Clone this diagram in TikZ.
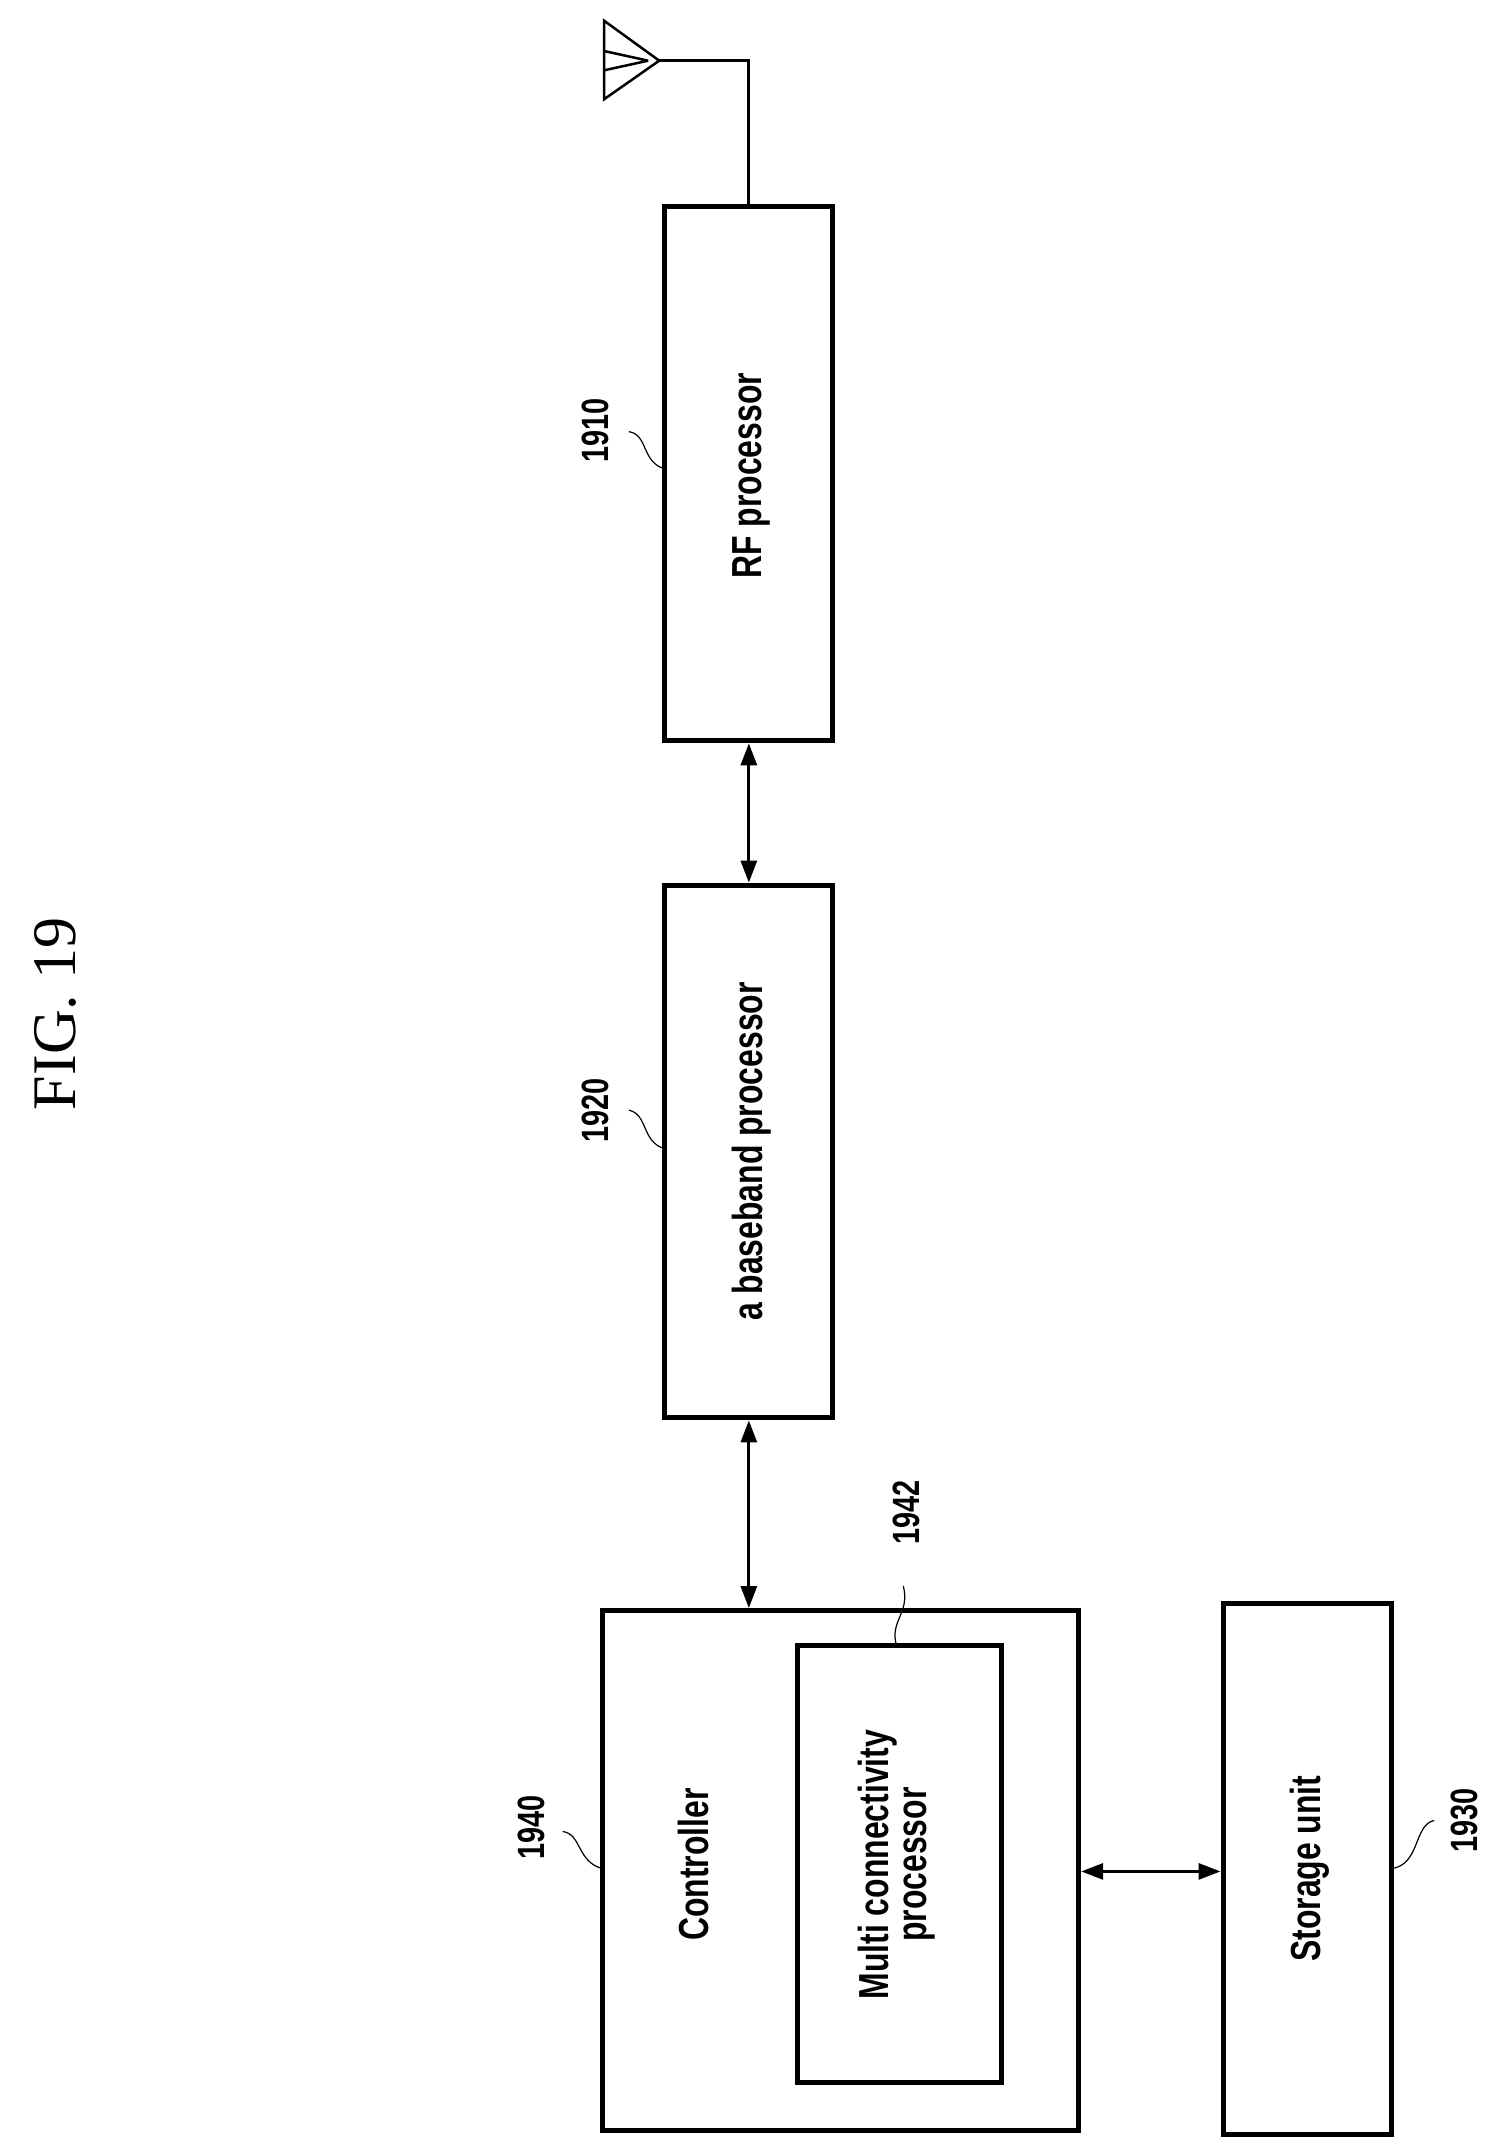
\documentclass[tikz,border=0pt]{standalone}
\usepackage{fontspec}
\setmainfont{Liberation Sans}
\newfontfamily\figfont{Liberation Serif}
\usetikzlibrary{arrows.meta}
\begin{document}
\begin{tikzpicture}[x=1.3794pt,y=-1.3794pt,
  box/.style={draw,line width=5pt},
  txt/.style={rotate=90,font=\fontsize{42}{46}\selectfont\bfseries,align=center},
  lbl/.style={rotate=90,font=\fontsize{38}{40}\selectfont\bfseries},
  arr/.style={line width=3pt,{Triangle[length=22pt,width=16pt]}-{Triangle[length=22pt,width=16pt]}},
  lead/.style={line width=1.2pt}]
\useasboundingbox (0,0) rectangle (1086,1559);
\node[rotate=90,font=\figfont\fontsize{62}{64}\selectfont] (fig) at (40,735) {FIG. 19};
% boxes
\draw[box] (482,150) rectangle (604,537); \coordinate (rf) at (543,150);
\node[txt] (rft) at (545,345) {\scalebox{0.76}[1]{RF processor}};
\draw[box] (482,642) rectangle (604,1028);
\node[txt] (bbt) at (545,835) {\scalebox{0.76}[1]{a baseband processor}};
\draw[box] (437,1168) rectangle (782,1545);
\node[txt] (ct) at (503,1352) {\scalebox{0.76}[1]{Controller}};
\draw[box] (578,1193) rectangle (726,1510);
\node[txt] (mt) at (650,1352) {\scalebox{0.76}[1]{Multi connectivity}\\[-8pt]\scalebox{0.76}[1]{processor}};
\draw[box] (887,1163) rectangle (1009,1548);
\node[txt] (st) at (950,1355) {\scalebox{0.76}[1]{Storage unit}};
% antenna
\coordinate (a1) at (438,15); \coordinate (a2) at (438,72); \coordinate (ap) at (478,44);
\coordinate (am1) at (438,37); \coordinate (am2) at (438,51);
\draw[line width=2.5pt,line join=miter] (a1) -- (ap) -- (a2) -- cycle;
\draw[line width=2.5pt] (am1) -- (470,44) (am2) -- (470,44);
\coordinate (ac) at (543,44);
\draw[line width=3pt] (ap) -- (ac) -- (rf);
% arrows
\coordinate (r1) at (543,539); \coordinate (b1) at (543,640);
\coordinate (b2) at (543,1030); \coordinate (c1) at (543,1166);
\coordinate (c2) at (784,1357); \coordinate (s1) at (885,1357);
\draw[arr] (r1) -- (b1);
\draw[arr] (b2) -- (c1);
\draw[arr] (c2) -- (s1);
% labels
\node[lbl] (l1910) at (432,312) {\scalebox{0.76}[1]{1910}};
\draw[lead] (456,313) .. controls (470,315) and (465,335) .. (482,340);
\node[lbl] (l1920) at (432,805) {\scalebox{0.76}[1]{1920}};
\draw[lead] (456,805) .. controls (470,808) and (465,828) .. (482,833);
\node[lbl] (l1940) at (385,1325) {\scalebox{0.76}[1]{1940}};
\draw[lead] (408,1328) .. controls (422,1330) and (418,1350) .. (437,1355);
\node[lbl] (l1942) at (657,1097) {\scalebox{0.76}[1]{1942}};
\draw[lead] (655,1150) .. controls (660,1170) and (645,1175) .. (650,1193);
\node[lbl] (l1930) at (1062,1320) {\scalebox{0.76}[1]{1930}};
\draw[lead] (1040,1320) .. controls (1025,1323) and (1030,1352) .. (1009,1355);
\end{tikzpicture}
\end{document}
